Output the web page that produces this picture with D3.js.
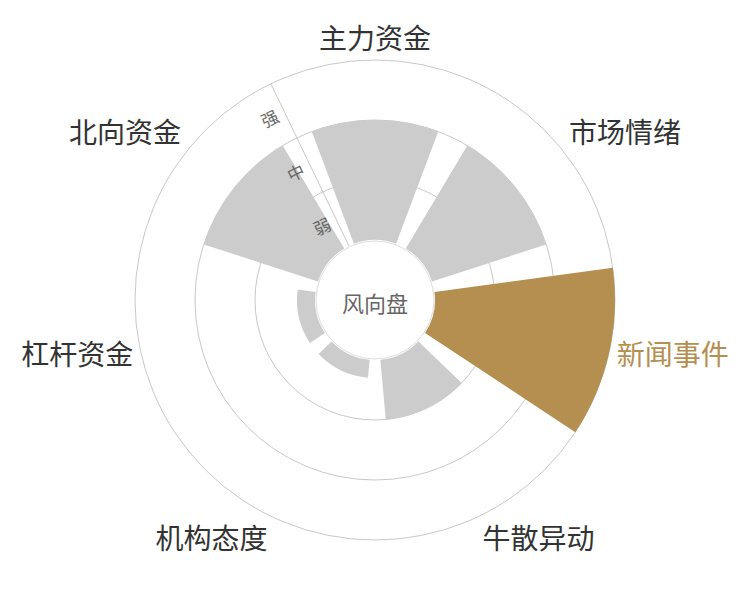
<!DOCTYPE html>
<html>
<head>
<meta charset="utf-8">
<script src="https://cdn.jsdelivr.net/npm/d3@7"></script>
<style>
  body { margin: 0; background: #fff; }
  text { font-family: "Noto Sans CJK SC", sans-serif; }
</style>
</head>
<body>
<script>
// data
var categories = ["主力资金", "市场情绪", "新闻事件", "牛散异动", "机构态度", "杠杆资金", "北向资金"];
var values = [2, 2, 3, 1, 0.3, 0.3, 2];
var highlight = "新闻事件";
var levelLabels = ["弱", "中", "强"];
var centerTitle = "风向盘";

var svgWidth = 750;
var svgHeight = 600;
var cx = 375, cy = 300;
var innerR = 60, outerR = 240;
var gold = "#b48f50";

var svg = d3.select("body")
  .append("svg")
  .attr("width", svgWidth)
  .attr("height", svgHeight);

var g = svg.append("g")
  .attr("transform", "translate(" + cx + "," + cy + ")");

var step = 2 * Math.PI / categories.length;

// angle scale: first category centred at the top, clockwise
var angle = d3.scaleBand()
  .domain(categories)
  .range([-step / 2, 2 * Math.PI - step / 2])
  .paddingInner(0.2)
  .paddingOuter(0.1);

var radius = d3.scaleLinear()
  .domain([0, 3])
  .range([innerR, outerR]);

var levelBand = d3.scaleBand()
  .domain(levelLabels)
  .range([innerR, outerR]);

// grid circles
g.selectAll("circle.grid")
  .data(radius.ticks(3).filter(function(d) { return d > 0; }))
  .enter()
  .append("circle")
  .attr("class", "grid")
  .attr("r", function(d) { return radius(d); })
  .attr("fill", "none")
  .attr("stroke", "#c8c8c8")
  .attr("stroke-width", 1);

// radius axis line
var axisAngle = -step / 2;
g.append("line")
  .attr("x1", innerR * Math.sin(axisAngle))
  .attr("y1", -innerR * Math.cos(axisAngle))
  .attr("x2", outerR * Math.sin(axisAngle))
  .attr("y2", -outerR * Math.cos(axisAngle))
  .attr("stroke", "#c8c8c8");

// bars
var arc = d3.arc()
  .innerRadius(innerR)
  .outerRadius(function(d, i) { return radius(values[i]); })
  .startAngle(function(d) { return angle(d); })
  .endAngle(function(d) { return angle(d) + angle.bandwidth(); });

g.selectAll("path.bar")
  .data(categories)
  .enter()
  .append("path")
  .attr("class", "bar")
  .attr("d", function(d, i) { return arc(d, i); })
  .attr("fill", function(d) { return d === highlight ? gold : "#cccccc"; });

// level labels along the radius axis
var offX = -16 * Math.cos(axisAngle), offY = -16 * Math.sin(axisAngle);
g.selectAll("text.level")
  .data(levelLabels)
  .enter()
  .append("text")
  .attr("class", "level")
  .attr("transform", function(d) {
    var r = levelBand(d) + levelBand.bandwidth() / 2;
    var x = r * Math.sin(axisAngle) + offX;
    var y = -r * Math.cos(axisAngle) + offY;
    return "translate(" + x + "," + y + ") rotate(" + (axisAngle * 180 / Math.PI) + ")";
  })
  .attr("text-anchor", "middle")
  .attr("dominant-baseline", "central")
  .attr("font-size", 17)
  .attr("fill", "#666")
  .text(function(d) { return d; });

// category labels
var labelR = outerR + 8;
g.selectAll("text.cat")
  .data(categories)
  .enter()
  .append("text")
  .attr("class", "cat")
  .each(function(d) {
    var a = angle(d) + angle.bandwidth() / 2;
    var x = labelR * Math.sin(a), y = -labelR * Math.cos(a);
    var anchor = Math.abs(x) / outerR < 0.3 ? "middle" : (x > 0 ? "start" : "end");
    var dy = Math.abs(y) / outerR < 0.3 ? "0.35em" : (y > 0 ? "0.9em" : "-0.1em");
    d3.select(this)
      .attr("x", x)
      .attr("y", y)
      .attr("dy", dy)
      .attr("text-anchor", anchor);
  })
  .attr("font-size", 28)
  .attr("fill", function(d) { return d === highlight ? gold : "#333"; })
  .text(function(d) { return d; });

// centre disc
g.append("circle")
  .attr("r", innerR - 1)
  .attr("fill", "#fff")
  .attr("stroke", "#dddddd");

g.append("text")
  .attr("text-anchor", "middle")
  .attr("dominant-baseline", "central")
  .attr("y", 2)
  .attr("font-size", 22)
  .attr("fill", "#666")
  .text(centerTitle);
</script>
</body>
</html>
